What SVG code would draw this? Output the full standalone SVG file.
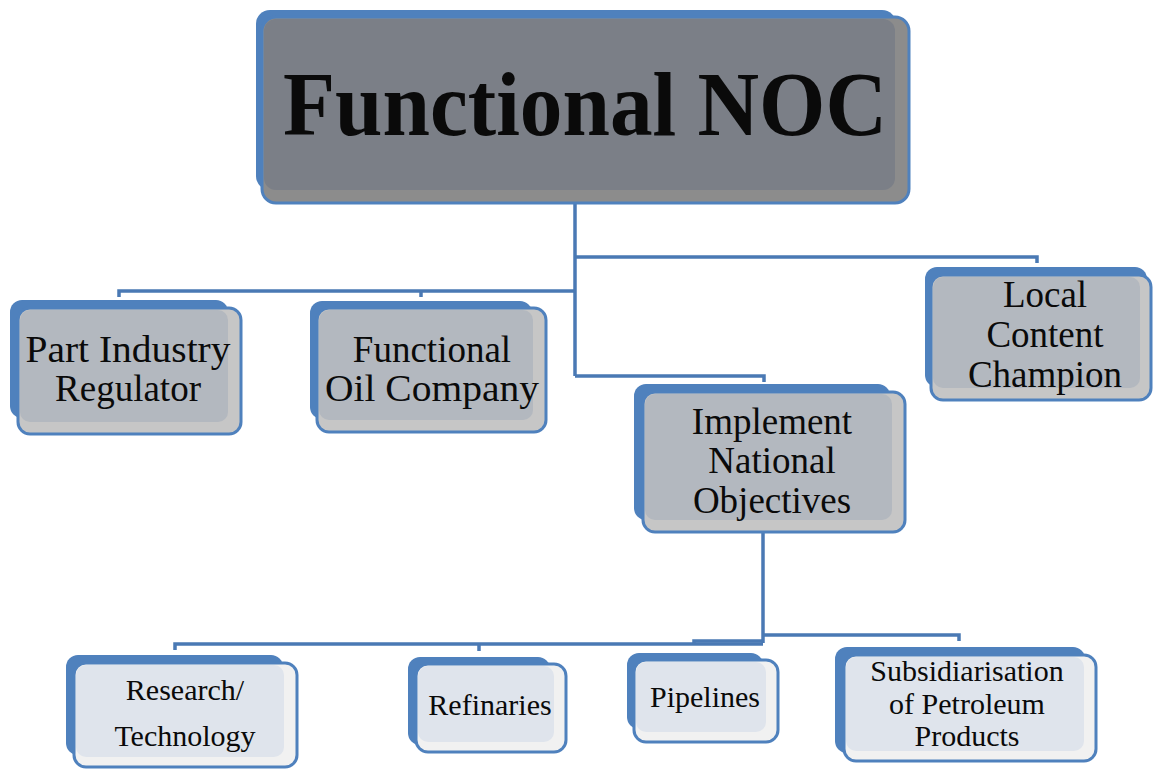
<svg xmlns="http://www.w3.org/2000/svg" width="1153" height="769" viewBox="0 0 1153 769">
<style>
.back{fill:#4f81bd}
.front{stroke:#4f81bd;stroke-width:3}
.top .front{fill:#8c8c8c}
.top .inner{fill:#7b7f87}
.mid .front{fill:#c6c6c6}
.mid .inner{fill:#b3b8bf}
.low .front{fill:#f1f1f1}
.low .inner{fill:#dfe4ec}
text{font-family:"Liberation Serif","Times New Roman",serif;fill:#0a0a0a;text-anchor:middle}
.t1{font-size:92px;font-weight:bold}
.t2{font-size:37px}
.t3{font-size:30px}
.conn{fill:none;stroke:#4a79b4;stroke-width:3.5}
</style>
<rect width="1153" height="769" fill="#ffffff"/>
<g id="connectors">
<path class="conn" d="M575,203 V376"/>
<path class="conn" d="M575,291 H119 V297"/>
<path class="conn" d="M421,291 V297"/>
<path class="conn" d="M575,257 H1037 V263"/>
<path class="conn" d="M575,376 H764 V382"/>
<path class="conn" d="M763,532 V643"/>
<path class="conn" d="M763,644 H175 V650"/>
<path class="conn" d="M479,644 V651"/>
<path class="conn" d="M763,641 H694 V645"/>
<path class="conn" d="M763,635 H959 V641"/>
</g>
<g id="functional-noc" class="top">
<rect class="back" x="256" y="10" width="640" height="180" rx="14"/>
<rect class="front" x="262" y="17" width="647" height="186" rx="14"/>
<rect class="inner" x="264" y="19" width="631" height="171" rx="12"/>
<text class="t1" x="585" y="135" textLength="604" lengthAdjust="spacingAndGlyphs">Functional NOC</text>
</g>
<g id="part-industry-regulator" class="mid">
<rect class="back" x="10" y="300" width="218" height="118" rx="12"/>
<rect class="front" x="18" y="308" width="223" height="126" rx="12"/>
<rect class="inner" x="20" y="310" width="208" height="112" rx="10"/>
<text class="t2" x="128" y="362" textLength="205" lengthAdjust="spacingAndGlyphs">Part Industry</text>
<text class="t2" x="128" y="401">Regulator</text>
</g>
<g id="functional-oil-company" class="mid">
<rect class="back" x="310" y="301" width="222" height="118" rx="12"/>
<rect class="front" x="317" y="308" width="229" height="124" rx="12"/>
<rect class="inner" x="319" y="310" width="214" height="110" rx="10"/>
<text class="t2" x="432" y="362">Functional</text>
<text class="t2" x="432" y="401" textLength="214" lengthAdjust="spacingAndGlyphs">Oil Company</text>
</g>
<g id="implement-national-objectives" class="mid">
<rect class="back" x="634" y="384" width="256" height="136" rx="12"/>
<rect class="front" x="643" y="392" width="262" height="140" rx="12"/>
<rect class="inner" x="645" y="394" width="247" height="126" rx="10"/>
<text class="t2" x="772" y="434">Implement</text>
<text class="t2" x="772" y="473">National</text>
<text class="t2" x="772" y="513">Objectives</text>
</g>
<g id="local-content-champion" class="mid">
<rect class="back" x="925" y="267" width="222" height="120" rx="12"/>
<rect class="front" x="931" y="275" width="220" height="125" rx="12"/>
<rect class="inner" x="933" y="277" width="207" height="111" rx="10"/>
<text class="t2" x="1045" y="307">Local</text>
<text class="t2" x="1045" y="347">Content</text>
<text class="t2" x="1045" y="387">Champion</text>
</g>
<g id="research-technology" class="low">
<rect class="back" x="66" y="655" width="217" height="100" rx="12"/>
<rect class="front" x="74" y="663" width="223" height="104" rx="12"/>
<rect class="inner" x="76" y="665" width="208" height="92" rx="10"/>
<text class="t3" x="185" y="700">Research/</text>
<text class="t3" x="185" y="746">Technology</text>
</g>
<g id="refinaries" class="low">
<rect class="back" x="408" y="657" width="142" height="88" rx="12"/>
<rect class="front" x="416" y="664" width="150" height="88" rx="12"/>
<rect class="inner" x="418" y="666" width="136" height="76" rx="10"/>
<text class="t3" x="490" y="715">Refinaries</text>
</g>
<g id="pipelines" class="low">
<rect class="back" x="627" y="653" width="136" height="76" rx="12"/>
<rect class="front" x="634" y="660" width="144" height="82" rx="12"/>
<rect class="inner" x="636" y="662" width="130" height="70" rx="10"/>
<text class="t3" x="705" y="707">Pipelines</text>
</g>
<g id="subsidiarisation" class="low">
<rect class="back" x="835" y="647" width="250" height="106" rx="12"/>
<rect class="front" x="844" y="655" width="252" height="106" rx="12"/>
<rect class="inner" x="846" y="657" width="238" height="94" rx="10"/>
<text class="t3" x="967" y="681">Subsidiarisation</text>
<text class="t3" x="967" y="714">of Petroleum</text>
<text class="t3" x="967" y="746">Products</text>
</g>
</svg>
